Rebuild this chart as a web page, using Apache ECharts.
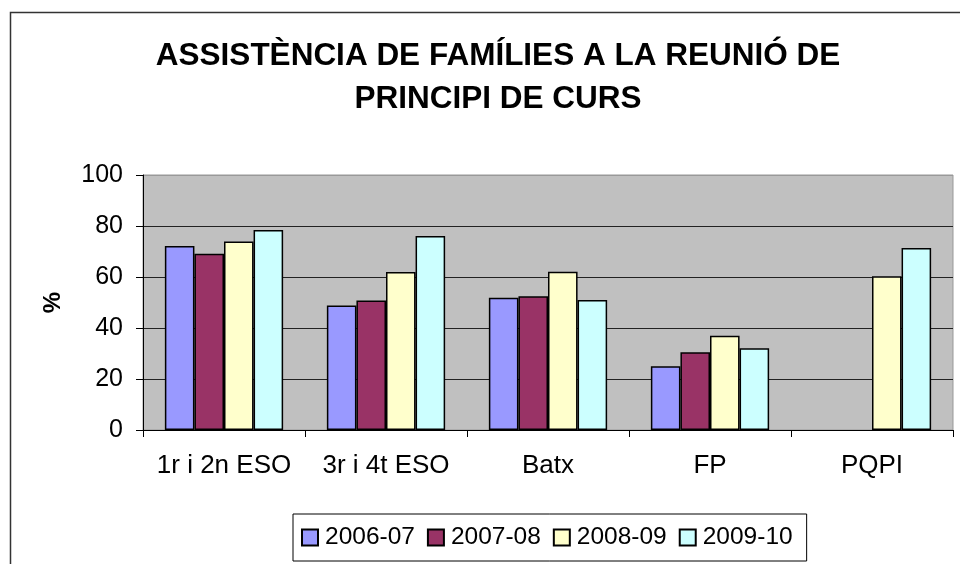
<!DOCTYPE html>
<html lang="ca">
<head>
    <meta charset="UTF-8">
    <title>Assistència de famílies</title>
    <script src="https://cdn.jsdelivr.net/npm/echarts@6/dist/echarts.min.js"></script>
    <style>
        html, body { margin: 0; padding: 0; background: #fff; }
        #chart { width: 960px; height: 564px; }
    </style>
</head>
<body>
<div id="chart"></div>
<script>
    // dades llegides del gràfic
    var categories = ['1r i 2n ESO', '3r i 4t ESO', 'Batx', 'FP', 'PQPI'];
    var years = ['2006-07', '2007-08', '2008-09', '2009-10'];
    var s2006 = [72.2, 48.8, 51.9, 25.0, null];
    var s2007 = [69.1, 50.8, 52.5, 30.5, null];
    var s2008 = [73.9, 62.0, 62.1, 37.0, 60.3];
    var s2009 = [78.4, 76.1, 51.0, 32.1, 71.4];
    var yTicks = [0, 20, 40, 60, 80, 100];

    var colors = ['#9999FF', '#993366', '#FFFFCC', '#CCFFFF'];
    var values = [s2006, s2007, s2008, s2009];
    var font = 'Liberation Sans, Arial, sans-serif';

    var series = [];
    for (var i = 0; i < years.length; i++) {
        series.push({
            name: years[i],
            type: 'bar',
            data: values[i],
            barGap: '0%',
            barCategoryGap: '27%',
            itemStyle: { color: colors[i], borderColor: '#000', borderWidth: 1.5 }
        });
    }

    var chart = echarts.init(document.getElementById('chart'));
    chart.setOption({
        animation: false,
        backgroundColor: '#fff',
        graphic: [{
            type: 'rect',
            shape: { x: 10.5, y: 12.5, width: 1000, height: 600 },
            style: { fill: 'none', stroke: '#333', lineWidth: 1.5 },
            silent: true
        }],
        title: {
            text: 'ASSISTÈNCIA DE FAMÍLIES A LA REUNIÓ DE\nPRINCIPI DE CURS',
            left: 493,
            top: 30,
            textAlign: 'center',
            textStyle: {
                fontFamily: font, fontWeight: 'bold', fontSize: 31.5,
                color: '#000', lineHeight: 43
            }
        },
        legend: {
            data: years,
            left: 293,
            top: 514,
            icon: 'rect',
            itemWidth: 16,
            itemHeight: 16,
            itemGap: 12,
            padding: [11, 14, 11, 8],
            borderColor: '#000',
            borderWidth: 1,
            textStyle: { fontFamily: font, fontSize: 24.5, color: '#000', padding: [0, 0, 0, 2] }
        },
        grid: {
            left: 143, right: 7, top: 175, bottom: 134,
            show: true, backgroundColor: '#C0C0C0', borderColor: '#999', borderWidth: 1
        },
        xAxis: {
            type: 'category',
            data: categories,
            axisLine: { lineStyle: { color: '#000', width: 1 } },
            axisTick: { show: true, length: 7, interval: 0, lineStyle: { color: '#000' } },
            axisLabel: { fontFamily: font, fontSize: 26, color: '#000', margin: 23, interval: 0 }
        },
        yAxis: {
            type: 'value',
            min: yTicks[0],
            max: yTicks[yTicks.length - 1],
            interval: yTicks[1] - yTicks[0],
            name: '%',
            nameLocation: 'middle',
            nameRotate: 90,
            nameGap: 78,
            nameTextStyle: { fontFamily: font, fontSize: 24, fontWeight: 'bold', color: '#000' },
            axisLine: { show: true, lineStyle: { color: '#000', width: 1 } },
            axisTick: { show: true, length: 7, lineStyle: { color: '#000' } },
            axisLabel: { fontFamily: font, fontSize: 25, color: '#000', margin: 20 },
            splitLine: { show: true, lineStyle: { color: ['#222', '#222', '#222', '#222', '#222', '#999'], width: 1 } }
        },
        series: series
    });
</script>
</body>
</html>
